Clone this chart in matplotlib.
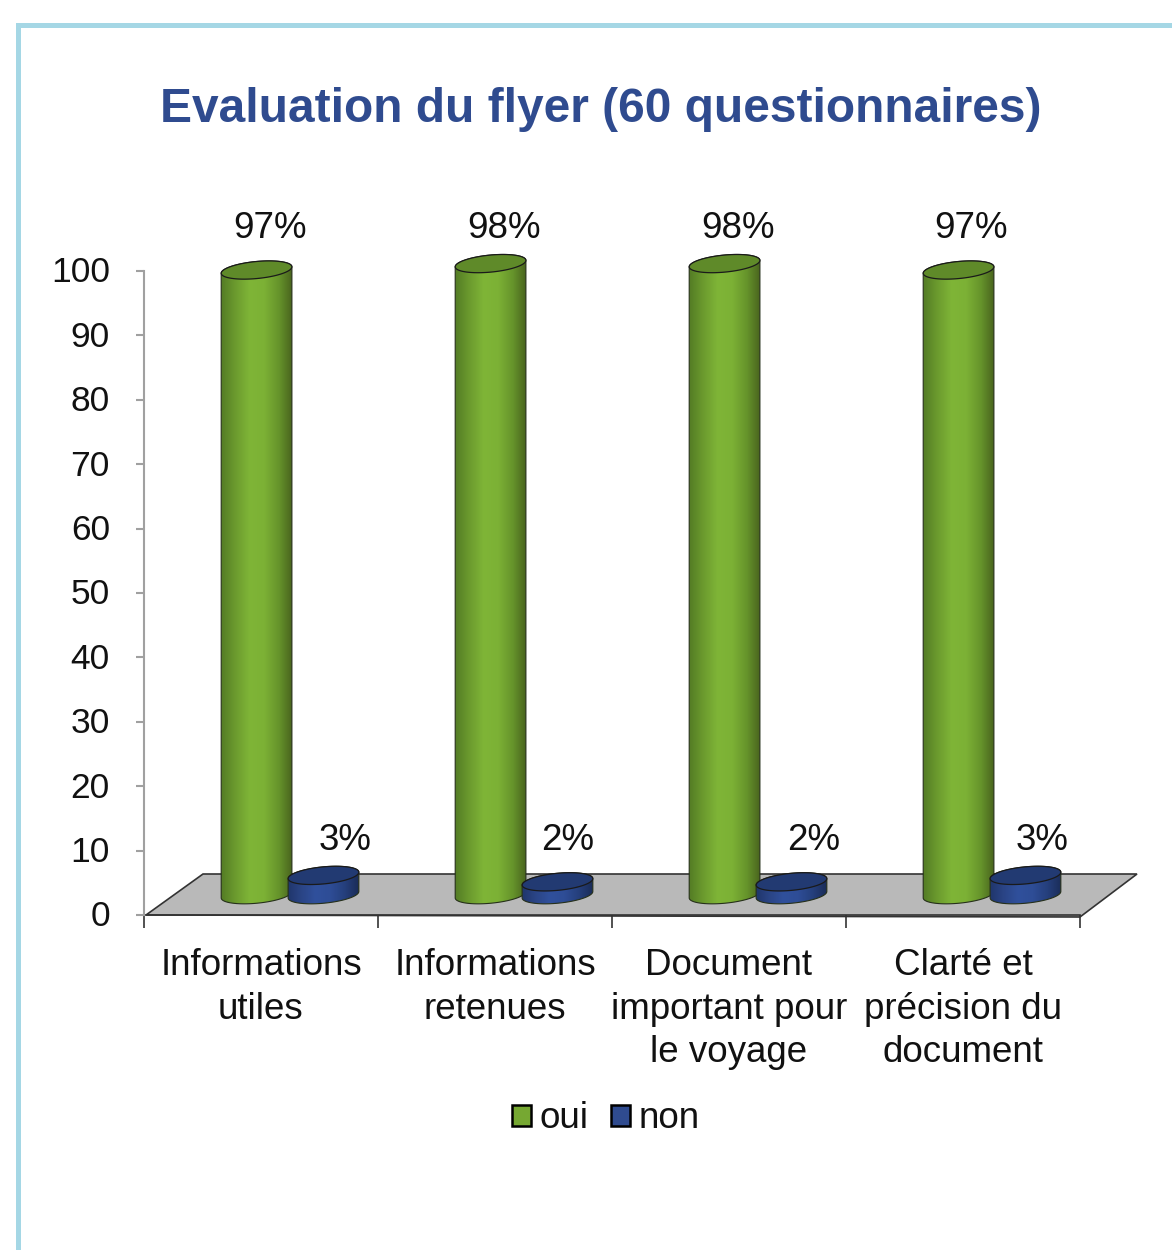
import numpy as np
import matplotlib
matplotlib.use("Agg")
import matplotlib.pyplot as plt
from matplotlib.colors import LinearSegmentedColormap
from matplotlib.patches import Patch, Polygon, Rectangle
from matplotlib.transforms import ScaledTranslation

plt.rcParams['font.family'] = ['Liberation Sans', 'DejaVu Sans']

categories = ["Informations\nutiles", "Informations\nretenues",
              "Document\nimportant pour\nle voyage", "Clarté et\nprécision du\ndocument"]
oui = [97, 98, 98, 97]
non = [3, 2, 2, 3]
y_ticks = list(range(0, 101, 10))
series_names = ["oui", "non"]

W, H = 1172, 1250
LEFT, RIGHT, TOP, BOTTOM = 144, 1080, 271, 915
PX_X = (RIGHT - LEFT) / len(categories)
PX_Y = (BOTTOM - TOP) / 100

fig = plt.figure(figsize=(W / 100, H / 100), dpi=100, facecolor="white")
ax = fig.add_axes([LEFT / W, 1 - BOTTOM / H, (RIGHT - LEFT) / W, (BOTTOM - TOP) / H])


def ellipse_pts(cx, cy, t):
    # tilted ellipse, sizes in pixels, centre in data units
    a, b, phi = 35.5, 8.5, np.radians(5.5)
    dx = a * np.cos(t) * np.cos(phi) - b * np.sin(t) * np.sin(phi)
    dy = a * np.cos(t) * np.sin(phi) + b * np.sin(t) * np.cos(phi)
    return np.column_stack([cx + dx / PX_X, cy + dy / PX_Y])


def cylinder(cx, value, colors, top_color, z):
    base = 3.15
    top = base + value
    t0 = np.arctan(-(8.5 / 35.5) * np.tan(np.radians(5.5)))
    lower = np.linspace(t0 + np.pi, t0 + 2 * np.pi, 60)
    upper = np.linspace(t0, t0 + np.pi, 60)
    pts = np.vstack([ellipse_pts(cx, base, lower), ellipse_pts(cx, top, upper)])
    outline = Polygon(pts, closed=True, fill=False, edgecolor="#26301a", linewidth=0.8,
                      zorder=z + 0.2, clip_on=False)
    ax.add_patch(outline)
    cmap = LinearSegmentedColormap.from_list("side", colors)
    im = ax.imshow(np.linspace(0, 1, 100).reshape(1, -1), cmap=cmap, aspect="auto",
                   extent=[cx - 37 / PX_X, cx + 37 / PX_X, base - 3, top + 3], zorder=z)
    im.set_clip_path(outline)
    im.set_clip_box(fig.bbox)
    cap = Polygon(ellipse_pts(cx, top, np.linspace(0, 2 * np.pi, 120)), closed=True,
                  facecolor=top_color, edgecolor="#1a1a1a", linewidth=0.9,
                  zorder=z + 0.3, clip_on=False)
    ax.add_patch(cap)


# grey floor of the 3d plot
floor = [(LEFT + 2, 0), (LEFT + 59, 41), (RIGHT + 57, 41), (RIGHT, -2)]
floor = [((x - LEFT) / PX_X, y / PX_Y) for x, y in floor]
ax.add_patch(Polygon(floor, closed=True, facecolor="#b9b9b9", edgecolor="#333333",
                     linewidth=1.2, zorder=1, clip_on=False))

green = ["#527a24", "#6b9a2e", "#7fb537", "#7cb135", "#66942b", "#465f1d"]
blue = ["#1f3468", "#2a4485", "#30509c", "#2e4d96", "#253f7c", "#1a2b55"]

for i in range(len(categories)):
    cylinder(i + 0.481, oui[i], green, "#5f8a29", 3 + i)
    cylinder(i + 0.767, non[i], blue, "#223a72", 3.5 + i)

ax.set_xlim(0, len(categories))
ax.set_ylim(0, 100)

# labels sit a little apart from the cylinders
oui_x = [270, 504, 738, 971]
non_x = [345, 568, 814, 1042]
for i in range(len(categories)):
    ax.text((oui_x[i] - LEFT) / PX_X, (BOTTOM - 229) / PX_Y, f"{oui[i]}%", fontsize=26.5,
            ha="center", va="center", color="#111111", clip_on=False)
    ax.text((non_x[i] - LEFT) / PX_X, (BOTTOM - 840) / PX_Y, f"{non[i]}%", fontsize=26.5,
            ha="center", va="center", color="#111111", clip_on=False)

ax.set_xticks(np.arange(len(categories) + 1))
ax.set_xticklabels([""] * (len(categories) + 1))
ax.set_yticks(y_ticks)
ax.tick_params(axis="y", length=5.5, width=1.5, color="#a0a0a0", pad=19, labelsize=25.5, labelcolor="#111111")
ax.tick_params(axis="x", length=9.5, width=1.2, color="#333333")
nudge = ScaledTranslation(0, 1.5 / 100, fig.dpi_scale_trans)
for lab in ax.get_yticklabels():
    lab.set_transform(lab.get_transform() + nudge)
for i, name in enumerate(categories):
    ax.text(i + 0.5, -(948 - BOTTOM) / PX_Y, name, fontsize=26.5, ha="center", va="top",
            linespacing=1.32, color="#111111", clip_on=False)

for side in ["top", "right"]:
    ax.spines[side].set_visible(False)
ax.spines["left"].set_color("#a0a0a0")
ax.spines["left"].set_linewidth(1.5)
ax.spines["bottom"].set_color("#333333")
ax.spines["bottom"].set_linewidth(1.2)
ax.spines["bottom"].set_zorder(2)

handles = [Patch(facecolor="#76a832", edgecolor="black", linewidth=1.8),
           Patch(facecolor="#2f4b8f", edgecolor="black", linewidth=1.8)]
fig.legend(handles, series_names, loc="center", bbox_to_anchor=(606 / W, 1 - 1119 / H), ncol=2,
           frameon=False, fontsize=26.5, handlelength=0.52, handleheight=0.52,
           handletextpad=0.22, columnspacing=0.62, borderpad=0, labelcolor="#111111")

fig.text(601 / W, 1 - 110 / H, "Evaluation du flyer (60 questionnaires)", fontsize=34.5, fontweight="bold",
         color="#2f4b8f", ha="center", va="center")

# light blue page border
fig.add_artist(Rectangle((16 / W, 0), 5 / W, 1 - 23 / H, transform=fig.transFigure,
                         facecolor="#a5d7e5", edgecolor="none"))
fig.add_artist(Rectangle((16 / W, 1 - 28 / H), 1 - 16 / W, 5 / H, transform=fig.transFigure,
                         facecolor="#a5d7e5", edgecolor="none"))

fig.savefig("out.png", dpi=100)
